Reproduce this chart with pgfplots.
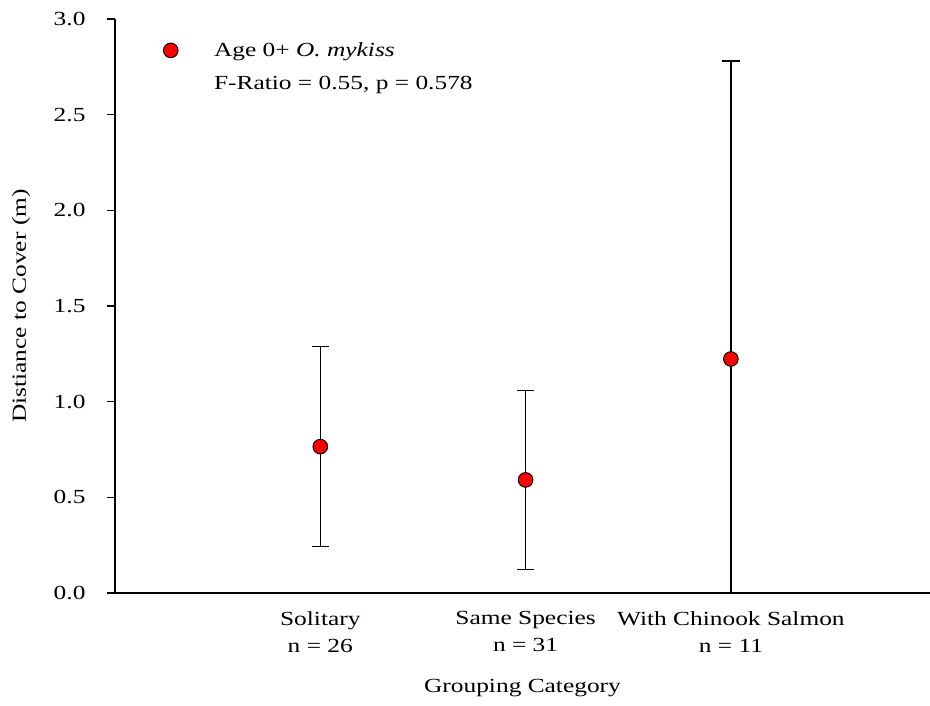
\documentclass[border=0pt]{standalone}
\usepackage{pgfplots}
\pgfplotsset{compat=1.18}
\usepackage{fontspec}
\setmainfont{Liberation Serif}[FakeStretch=1.27]

% Mean distance to cover with symmetric error bars, by grouping category
\pgfplotstableread{
x  y      err
1  0.765  0.523
2  0.591  0.468
3  1.223  1.557
}\covertable

\begin{document}
\begin{tikzpicture}
\begin{axis}[
  name=ax,
  scale only axis=true,
  width=815pt, height=574pt,
  xmin=0, xmax=3.97,
  ymin=0, ymax=3,
  axis x line=bottom,
  axis y line=left,
  axis line style={-, line width=1.6pt},
  x axis line style={line width=2pt},
  xtick={1,2,3},
  xticklabels={{Solitary\\n = 26},{Same Species\\n = 31},{With Chinook Salmon\\n = 11}},
  xticklabel style={align=center, font=\fontsize{20}{27}\selectfont, yshift=-7pt},
  major x tick style={draw=none},
  ytick={0,0.5,...,3.0},
  yticklabel style={font=\fontsize{20}{24}\selectfont, xshift=-18pt,
    /pgf/number format/.cd, fixed, fixed zerofill, precision=1},
  /pgf/number format/assume math mode=true,
  tick align=outside,
  major tick length=8pt,
  y tick style={line width=1.3pt, black},
  xlabel={Grouping Category},
  ylabel={Distiance to Cover (m)},
  xlabel style={at={(axis description cs:0.5,0)}, anchor=center, yshift=-95pt},
  ylabel style={at={(axis description cs:0,0.5)}, anchor=center, yshift=94pt},
  label style={font=\fontsize{20}{24}\selectfont},
  legend style={draw=none, fill=none, at={(rel axis cs:0.054,0.966)}, anchor=north west,
    font=\fontsize{20}{24}\selectfont, row sep=14pt,
    /tikz/every odd column/.append style={column sep=34pt}},
  legend cell align=left,
  clip=true,
]
\addplot[
  only marks,
  mark=*,
  mark size=7.3pt,
  mark options={fill=red, draw=black, line width=1pt},
  error bars/.cd,
    y dir=both, y explicit,
    error bar style={line width=1.4pt, black},
    error mark options={rotate=90, mark size=8.7pt, line width=1.4pt, black},
] table[x=x, y=y, y error=err] {\covertable};
\addlegendentry{Age 0+ \textit{O. mykiss}}
\addlegendimage{empty legend}
\addlegendentry{F-Ratio = 0.55, p = 0.578}
\end{axis}
\pgfresetboundingbox
\path ([shift={(-115pt,-113pt)}]ax.south west) rectangle ([shift={(0pt,19pt)}]ax.north east);
\end{tikzpicture}
\end{document}
